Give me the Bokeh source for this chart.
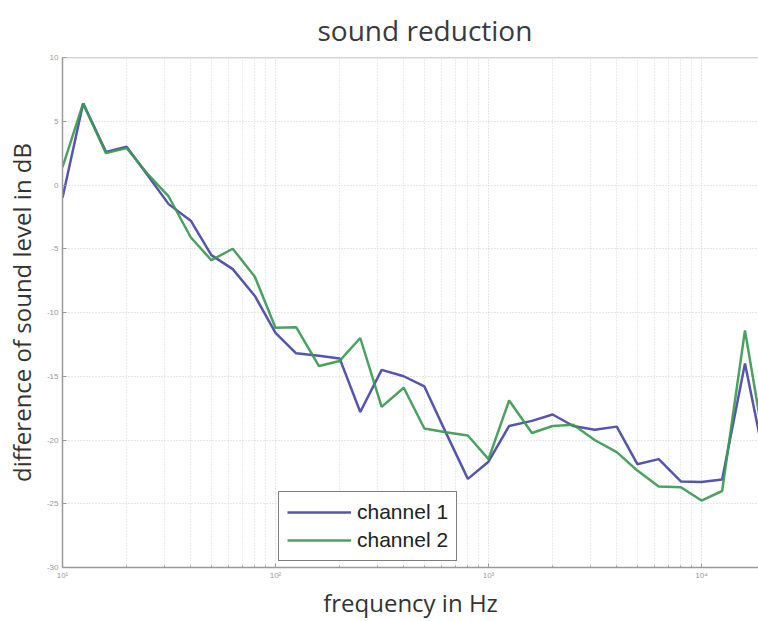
from bokeh.plotting import figure
from bokeh.models import FixedTicker, Range1d, Span, Legend, LegendItem
from bokeh.embed import file_html
from bokeh.resources import INLINE

# ---- data ----
freq = [10, 12.5, 16, 20, 25, 31.5, 40, 50, 63, 80, 100, 125, 160, 200, 250, 315,
        400, 500, 630, 800, 1000, 1250, 1600, 2000, 2500, 3150, 4000, 5000, 6300,
        8000, 10000, 12500, 16000, 20000]
channel_1 = [-1.0, 6.4, 2.6, 3.0, 0.8, -1.5, -2.8, -5.5, -6.6, -8.7, -11.6, -13.2,
             -13.4, -13.6, -17.8, -14.5, -15.0, -15.8, -19.4, -23.05, -21.7, -18.9,
             -18.5, -18.0, -18.9, -19.2, -18.95, -21.9, -21.5, -23.25, -23.3, -23.1,
             -14.0, -22.0]
channel_2 = [1.4, 6.4, 2.5, 2.9, 0.9, -0.9, -4.1, -5.9, -5.0, -7.2, -11.2, -11.15,
             -14.2, -13.8, -12.0, -17.4, -15.9, -19.1, -19.4, -19.65, -21.5, -16.9,
             -19.45, -18.9, -18.8, -20.0, -20.95, -22.4, -23.65, -23.7, -24.75, -24.0,
             -11.4, -21.0]
series_names = ["channel 1", "channel 2"]

x_major_ticks = [10, 100, 1000, 10000]
x_major_labels = ["10\u00b9", "10\u00b2", "10\u00b3", "10\u2074"]
x_minor_ticks = [m * d for d in [10, 100, 1000, 10000] for m in range(2, 10)]
y_ticks = [-30, -25, -20, -15, -10, -5, 0, 5, 10]

title_text = "sound reduction"
x_label = "frequency in Hz"
y_label = "difference of sound level in dB"

# ---- figure ----
p = figure(width=758, height=621, x_axis_type="log",
           x_range=Range1d(10, 18520), y_range=Range1d(-30, 10),
           output_backend="svg", toolbar_location=None,
           min_border_left=62, min_border_right=0, min_border_top=57,
           min_border_bottom=54)
p.outline_line_color = None
p.background_fill_color = "white"
p.border_fill_color = "white"

p.title.text = title_text
p.title.text_font = "Open Sans"
p.title.text_font_size = "28px"
p.title.text_font_style = "normal"
p.title.text_color = "#3a3a3a"
p.title.align = "left"
p.title.offset = 255
p.title.standoff = 17

xa = p.xaxis[0]
xa.ticker = FixedTicker(ticks=x_major_ticks, minor_ticks=x_minor_ticks)
xa.major_label_overrides = dict(zip(x_major_ticks, x_major_labels))
ya = p.yaxis[0]
ya.ticker = FixedTicker(ticks=y_ticks)
ya.major_label_overrides = {t: str(t) for t in y_ticks}

for ax in (xa, ya):
    ax.axis_line_color = "#9a9a9a"
    ax.axis_line_width = 1.5
    ax.major_tick_line_color = "#9a9a9a"
    ax.minor_tick_line_color = "#9a9a9a"
    ax.major_tick_in = 4
    ax.major_tick_out = 0
    ax.minor_tick_in = 2
    ax.minor_tick_out = 0
    ax.major_label_text_font = "Liberation Sans"
    ax.major_label_text_font_size = "8px"
    ax.major_label_text_color = "#999999"
    ax.axis_label_text_font = "Open Sans"
    ax.axis_label_text_font_size = "24px"
    ax.axis_label_text_font_style = "normal"
    ax.axis_label_text_color = "#333333"
ya.minor_tick_line_color = None
xa.major_label_standoff = 3
ya.major_label_standoff = 4
xa.axis_label = x_label
xa.axis_label_standoff = 3
ya.axis_label = y_label
ya.axis_label_standoff = 6

for g in (p.xgrid[0], p.ygrid[0]):
    g.grid_line_color = "#cfcfcf"
    g.grid_line_dash = "1 2"
    g.grid_line_width = 1
p.xgrid[0].minor_grid_line_color = "#d8d8d8"
p.xgrid[0].minor_grid_line_dash = "1 2"

# top border line of the box
p.add_layout(Span(location=10, dimension="width", line_color="#aaaaaa", line_width=1.5))

r1 = p.line(freq, channel_1, line_color="#4646a6", line_width=2.5, line_alpha=0.92)
r2 = p.line(freq, channel_2, line_color="#3c9a52", line_width=2.5, line_alpha=0.92)

legend = Legend(items=[LegendItem(label=series_names[0], renderers=[r1]),
                       LegendItem(label=series_names[1], renderers=[r2])],
                location=(216, 6))
legend.margin = 0
legend.padding = 8
legend.spacing = 4
legend.glyph_width = 64
legend.glyph_height = 24
legend.label_height = 24
legend.label_standoff = 6
legend.label_text_font = "Liberation Sans"
legend.label_text_font_size = "21px"
legend.label_text_color = "#222222"
legend.border_line_color = "black"
legend.border_line_width = 1.5
legend.background_fill_color = "white"
legend.background_fill_alpha = 1
p.add_layout(legend)

open("out.html", "w").write(file_html(p, INLINE))
